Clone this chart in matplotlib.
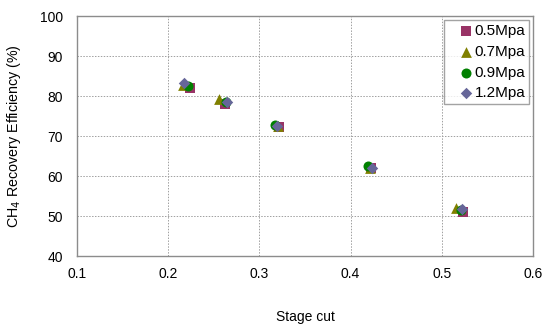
import matplotlib
matplotlib.use("Agg")
import matplotlib.pyplot as plt

plt.rcParams['font.family'] = ['Liberation Sans', 'DejaVu Sans']

# Stage cut (x) and CH4 recovery efficiency (%) for each feed pressure
series_labels = ["0.5Mpa", "0.7Mpa", "0.9Mpa", "1.2Mpa"]
stage_cut_05 = [0.224, 0.262, 0.321, 0.422, 0.523]
recovery_05 = [81.9, 78.0, 72.3, 62.0, 51.0]
stage_cut_07 = [0.216, 0.256, 0.320, 0.421, 0.516]
recovery_07 = [82.8, 79.2, 72.5, 62.0, 52.0]
stage_cut_09 = [0.222, 0.263, 0.317, 0.419, 0.521]
recovery_09 = [82.5, 78.4, 72.8, 62.4, 51.6]
stage_cut_12 = [0.217, 0.265, 0.319, 0.423, 0.522]
recovery_12 = [83.3, 78.5, 72.6, 62.1, 51.7]

x_ticks = [0.1, 0.2, 0.3, 0.4, 0.5, 0.6]
y_ticks = [40, 50, 60, 70, 80, 90, 100]

styles = [
    dict(marker="s", color="#993366", s=52),
    dict(marker="^", color="#808000", s=60),
    dict(marker="o", color="#008000", s=52),
    dict(marker="D", color="#666699", s=34),
]
xs = [stage_cut_05, stage_cut_07, stage_cut_09, stage_cut_12]
ys = [recovery_05, recovery_07, recovery_09, recovery_12]

fig = plt.figure(figsize=(5.45, 3.24), dpi=100)
ax = fig.add_axes([77 / 545, 68 / 324, 456 / 545, 240 / 324])

for lab, x, y, st in zip(series_labels, xs, ys, styles):
    ax.scatter(x, y, label=lab, marker=st["marker"], color=st["color"],
               s=st["s"], linewidths=0, zorder=3)

ax.set_xlim(0.1, 0.6)
ax.set_ylim(40, 100)
ax.set_xticks(x_ticks)
ax.set_yticks(y_ticks)
ax.set_xticklabels([f"{v:g}" for v in x_ticks])
ax.set_yticklabels([str(v) for v in y_ticks])
ax.grid(True, color="#a0a0a0", linestyle=(0, (1.5, 1.5)), linewidth=0.7)
ax.set_axisbelow(True)
for sp in ax.spines.values():
    sp.set_color("#8c8c8c")
    sp.set_linewidth(1.0)
ax.tick_params(length=0, labelsize=10, pad=8, colors="#000000")
ax.tick_params(axis="y", pad=10)

ax.set_xlabel("Stage cut", fontsize=10, labelpad=21)
ax.set_ylabel("CH$_4$ Recovery Efficiency (%)", fontsize=10.3, labelpad=12)

# Legend box sits between the 0.5 gridline and the right spine
leg = ax.legend(loc="upper right", bbox_to_anchor=(452 / 456, 236 / 240),
                borderaxespad=0, fontsize=11,
                frameon=True, fancybox=False, edgecolor="#8c8c8c",
                handletextpad=-0.7, handlelength=2.45, labelspacing=0.45,
                borderpad=0.25, scatterpoints=1)
leg.get_frame().set_linewidth(1.0)

fig.savefig("out.png", dpi=100)
